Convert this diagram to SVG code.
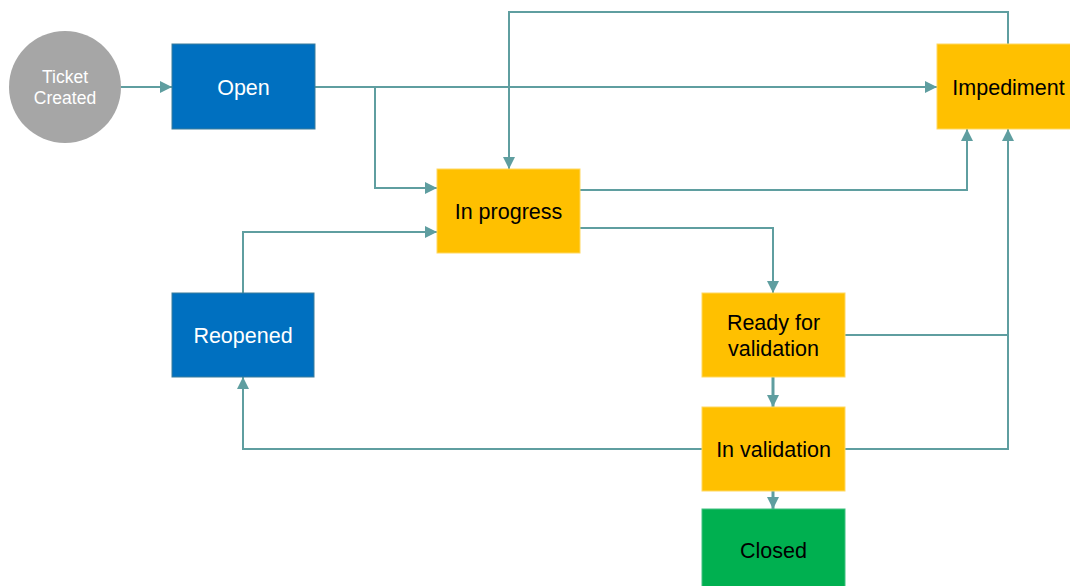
<svg xmlns="http://www.w3.org/2000/svg" width="1070" height="586" viewBox="0 0 1070 586">
<style>
.blue{fill:#0070c0;stroke:#3b7d9c;stroke-width:1}
.yel{fill:#ffc000;stroke:#ffd860;stroke-width:1}
.grn{fill:#00b050;stroke:#40c080;stroke-width:1}
.lbl{font-family:"Liberation Sans",Arial,sans-serif;font-size:21.5px;text-anchor:middle}
.w{fill:#ffffff}
.k{fill:#000000}
.c{fill:none;stroke:#5f9ea0;stroke-width:2}
</style>
<defs>
<marker id="ah" markerUnits="userSpaceOnUse" markerWidth="12" markerHeight="12" viewBox="0 0 12 12" refX="12" refY="6" orient="auto">
<path d="M0,0 L12,6 L0,12 z" fill="#5f9ea0"/>
</marker>
</defs>
<rect width="1070" height="586" fill="#ffffff"/>
<g id="connectors">
<path class="c" d="M121,87 H172" marker-end="url(#ah)"/>
<path class="c" d="M315,87 H937" marker-end="url(#ah)"/>
<path class="c" d="M375,87 V188 H437" marker-end="url(#ah)"/>
<path class="c" d="M1008,44 V12 H509 V169" marker-end="url(#ah)"/>
<path class="c" d="M580,190 H967 V129" marker-end="url(#ah)"/>
<path class="c" d="M580,228 H773 V293" marker-end="url(#ah)"/>
<path class="c" d="M845,335 H1008 V129" marker-end="url(#ah)"/>
<path class="c" d="M845,449 H1008 V335"/>
<path class="c" d="M773,377 V407" style="stroke-width:3" marker-end="url(#ah)"/>
<path class="c" d="M773,491 V509" style="stroke-width:3" marker-end="url(#ah)"/>
<path class="c" d="M702,449 H243 V377" marker-end="url(#ah)"/>
<path class="c" d="M243,293 V232 H437" marker-end="url(#ah)"/>
</g>
<g id="ticket-created">
<circle cx="65" cy="87" r="56" fill="#a6a6a6"/>
<text class="lbl w" x="65" y="83" style="font-size:17.5px">Ticket</text>
<text class="lbl w" x="65" y="104" style="font-size:17.5px">Created</text>
</g>
<g id="open">
<rect class="blue" x="172" y="44" width="143" height="85"/>
<text class="lbl w" x="243.5" y="94.5">Open</text>
</g>
<g id="in-progress">
<rect class="yel" x="437" y="169" width="143" height="84"/>
<text class="lbl k" x="508.5" y="219">In progress</text>
</g>
<g id="impediment">
<rect class="yel" x="937" y="44" width="143" height="85"/>
<text class="lbl k" x="1008.5" y="94.5">Impediment</text>
</g>
<g id="reopened">
<rect class="blue" x="172" y="293" width="142" height="84"/>
<text class="lbl w" x="243" y="343">Reopened</text>
</g>
<g id="ready-for-validation">
<rect class="yel" x="702" y="293" width="143" height="84"/>
<text class="lbl k" x="773.5" y="330">Ready for</text>
<text class="lbl k" x="773.5" y="356">validation</text>
</g>
<g id="in-validation">
<rect class="yel" x="702" y="407" width="143" height="84"/>
<text class="lbl k" x="773.5" y="456.5">In validation</text>
</g>
<g id="closed">
<rect class="grn" x="702" y="509" width="143" height="84"/>
<text class="lbl k" x="773.5" y="558">Closed</text>
</g>
</svg>
